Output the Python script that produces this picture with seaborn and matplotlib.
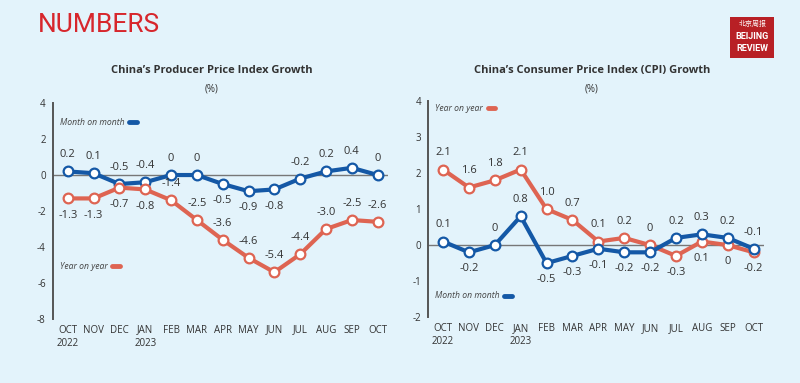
import numpy as np
import pandas as pd
import seaborn as sns
import matplotlib.pyplot as plt

sns.set_theme(style="white")
plt.rcParams['font.family'] = ['Open Sans', 'Noto Sans CJK SC', 'DejaVu Sans']

# data
months = ['OCT\n2022', 'NOV', 'DEC', 'JAN\n2023', 'FEB', 'MAR', 'APR',
          'MAY', 'JUN', 'JUL', 'AUG', 'SEP', 'OCT']
ppi_mom = [0.2, 0.1, -0.5, -0.4, 0, 0, -0.5, -0.9, -0.8, -0.2, 0.2, 0.4, 0]
ppi_yoy = [-1.3, -1.3, -0.7, -0.8, -1.4, -2.5, -3.6, -4.6, -5.4, -4.4, -3.0, -2.5, -2.6]
cpi_yoy = [2.1, 1.6, 1.8, 2.1, 1.0, 0.7, 0.1, 0.2, 0, -0.3, 0.1, 0, -0.2]
cpi_mom = [0.1, -0.2, 0, 0.8, -0.5, -0.3, -0.1, -0.2, -0.2, 0.2, 0.3, 0.2, -0.1]

# label placement: 1 above, -1 below
ppi_mom_pos = [1, 1, 1, 1, 1, 1, -1, -1, -1, 1, 1, 1, 1]
ppi_yoy_pos = [-1, -1, -1, -1, 1, 1, 1, 1, 1, 1, 1, 1, 1]
cpi_yoy_pos = [1, 1, 1, 1, 1, 1, 1, 1, 1, -1, -1, -1, -1]
cpi_mom_pos = [1, -1, 1, 1, -1, -1, -1, -1, -1, 1, 1, 1, 1]

BG = '#E3F3FB'
BLUE = '#1458A6'
RED = '#DE6452'
TXT = '#333333'


def fmt(v):
    if v == 0:
        return '0'
    return f'{v:.1f}'


def draw(ax, series, ylim, yticks):
    x = np.arange(len(months))
    for vals, color, pos in series:
        df = pd.DataFrame({'x': x, 'y': vals})
        sns.lineplot(data=df, x='x', y='y', ax=ax, color=color, lw=3,
                     marker='o', markersize=7, markerfacecolor='white',
                     markeredgecolor=color, markeredgewidth=1.6, zorder=3)
        for xi, v, p in zip(x, vals, pos):
            ax.annotate(fmt(v), (xi, v), xytext=(0, 8 * p), textcoords='offset points',
                        ha='center', va='bottom' if p > 0 else 'top',
                        fontsize=8, color=TXT)
    ax.axhline(0, color='#777777', lw=1, zorder=1)
    ax.set_facecolor(BG)
    ax.set_xlim(-0.58, 12.4)
    ax.set_ylim(*ylim)
    ax.set_yticks(yticks)
    ax.set_yticklabels([str(t) for t in yticks], fontsize=7, color=TXT)
    ax.set_xticks(x)
    ax.set_xticklabels(months, fontsize=7, color=TXT, linespacing=1.25)
    ax.tick_params(axis='x', length=0, pad=4)
    ax.tick_params(axis='y', length=0, pad=5)
    for s in ['top', 'right', 'bottom']:
        ax.spines[s].set_visible(False)
    ax.spines['left'].set_color('#555555')
    ax.spines['left'].set_linewidth(1.4)
    ax.set_xlabel('')
    ax.set_ylabel('')


legend_items = []


def legend_item(ax, xf, yf, text, color):
    t = ax.text(xf, yf, text, transform=ax.transAxes, fontsize=6.2, style='italic',
                color='#444444', va='center', ha='left')
    legend_items.append((ax, t, yf, color))


fig = plt.figure(figsize=(8, 3.83), dpi=100)
fig.patch.set_facecolor(BG)

ax1 = fig.add_axes([0.066, 0.167, 0.419, 0.564])
draw(ax1, [(ppi_mom, BLUE, ppi_mom_pos), (ppi_yoy, RED, ppi_yoy_pos)],
     (-8, 4), [4, 2, 0, -2, -4, -6, -8])
legend_item(ax1, 0.02, 0.912, 'Month on month', BLUE)
legend_item(ax1, 0.02, 0.245, 'Year on year', RED)

ax2 = fig.add_axes([0.535, 0.172, 0.42, 0.564])
draw(ax2, [(cpi_yoy, RED, cpi_yoy_pos), (cpi_mom, BLUE, cpi_mom_pos)],
     (-2, 4), [4, 3, 2, 1, 0, -1, -2])
legend_item(ax2, 0.02, 0.967, 'Year on year', RED)
legend_item(ax2, 0.02, 0.10, 'Month on month', BLUE)

# legend swatches placed right after the text
fig.canvas.draw()
renderer = fig.canvas.get_renderer()
for ax, t, yf, color in legend_items:
    bb = t.get_window_extent(renderer).transformed(ax.transAxes.inverted())
    x0 = bb.x1 + 0.015
    ax.plot([x0, x0 + 0.022], [yf, yf], transform=ax.transAxes,
            color=color, lw=3.5, solid_capstyle='round', clip_on=False)

# titles
fig.text(0.265, 0.81, 'China\u2019s Producer Price Index Growth', ha='center',
         fontsize=8, fontweight='bold', color=TXT)
fig.text(0.265, 0.762, '(%)', ha='center', fontsize=7, color=TXT)
fig.text(0.74, 0.81, 'China\u2019s Consumer Price Index (CPI) Growth', ha='center',
         fontsize=8, fontweight='bold', color=TXT)
fig.text(0.74, 0.762, '(%)', ha='center', fontsize=7, color=TXT)

fig.text(0.047, 0.965, 'NUMBERS', ha='left', va='top', fontsize=19,
         color='#D7262C', family=['Roboto', 'DejaVu Sans'])

# logo
logo = fig.add_axes([0.913, 0.849, 0.055, 0.107])
logo.set_facecolor('#B82025')
logo.set_xticks([])
logo.set_yticks([])
for s in logo.spines.values():
    s.set_visible(False)
logo.text(0.5, 0.83, '北京周报', ha='center', va='center', color='white', fontsize=5,
          family=['Noto Sans CJK SC', 'DejaVu Sans'], transform=logo.transAxes)
logo.text(0.5, 0.52, 'BEIJING', ha='center', va='center', color='white', fontsize=6.5,
          fontweight='bold', family=['Roboto', 'DejaVu Sans'],
          transform=logo.transAxes)
logo.text(0.5, 0.22, 'REVIEW', ha='center', va='center', color='white', fontsize=6.5,
          fontweight='bold', family=['Roboto', 'DejaVu Sans'],
          transform=logo.transAxes)

fig.savefig('out.png', dpi=100, facecolor=BG)
